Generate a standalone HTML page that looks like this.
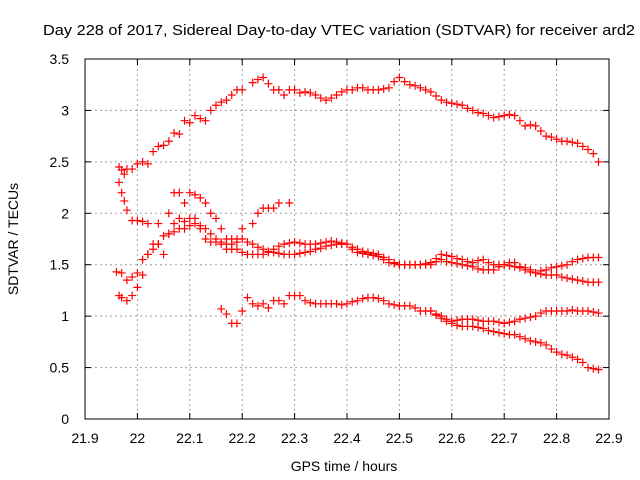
<!DOCTYPE html>
<html><head><meta charset="utf-8"><style>
body{margin:0;background:#fff}
svg{display:block;font-family:"Liberation Sans",Arial,sans-serif}
</style></head><body>
<svg id="chart" width="640" height="480" viewBox="0 0 640 480" xmlns="http://www.w3.org/2000/svg">
<text x="339" y="35" font-size="14.5" text-anchor="middle" textLength="592" lengthAdjust="spacingAndGlyphs">Day 228 of 2017, Sidereal Day-to-day VTEC variation (SDTVAR) for receiver ard2</text>
<g id="grid"></g>
<g id="ticks"></g>
<g id="marks"></g>
<rect x="85" y="59" width="524" height="360" fill="none" stroke="#000" stroke-width="1"/>
<text x="344" y="471" font-size="14" text-anchor="middle">GPS time / hours</text>
<text transform="translate(18,239) rotate(-90)" font-size="14" text-anchor="middle">SDTVAR / TECUs</text>
</svg>
<script>
const xTicks=[21.9,22,22.1,22.2,22.3,22.4,22.5,22.6,22.7,22.8,22.9];
const xTickLabels=["21.9","22","22.1","22.2","22.3","22.4","22.5","22.6","22.7","22.8","22.9"];
const yTicks=[0,0.5,1,1.5,2,2.5,3,3.5];
const yTickLabels=["0","0.5","1","1.5","2","2.5","3","3.5"];
const serA=[[21.965,2.45],[21.97,2.42],[21.975,2.38],[21.98,2.43],[21.99,2.43],[22.0,2.48],[22.01,2.5],[22.02,2.48],[22.03,2.6],[22.04,2.65],[22.05,2.66],[22.06,2.7],[22.07,2.78],[22.08,2.77],[22.09,2.9],[22.1,2.88],[22.11,2.95],[22.12,2.92],[22.13,2.9],[22.14,3.0],[22.15,3.05],[22.16,3.08],[22.17,3.1],[22.18,3.15],[22.19,3.2],[22.2,3.2],[22.22,3.27],[22.23,3.3],[22.24,3.32],[22.25,3.26],[22.26,3.2],[22.27,3.2],[22.28,3.15],[22.29,3.2],[22.3,3.2],[22.31,3.17],[22.32,3.18],[22.33,3.17],[22.34,3.15],[22.35,3.12],[22.36,3.1],[22.37,3.12],[22.38,3.15],[22.39,3.18],[22.4,3.2],[22.41,3.2],[22.42,3.22],[22.43,3.22],[22.44,3.2],[22.45,3.2],[22.46,3.2],[22.47,3.21],[22.48,3.22],[22.49,3.28],[22.5,3.32],[22.51,3.28],[22.52,3.25],[22.53,3.24],[22.54,3.22],[22.55,3.2],[22.56,3.18],[22.57,3.14],[22.58,3.1],[22.59,3.08],[22.6,3.07],[22.61,3.06],[22.62,3.05],[22.63,3.02],[22.64,3.0],[22.65,2.98],[22.66,2.97],[22.67,2.95],[22.68,2.93],[22.69,2.94],[22.7,2.95],[22.71,2.96],[22.72,2.95],[22.73,2.9],[22.74,2.85],[22.75,2.86],[22.76,2.85],[22.77,2.8],[22.78,2.75],[22.79,2.74],[22.8,2.72],[22.81,2.7],[22.82,2.7],[22.83,2.69],[22.84,2.68],[22.85,2.65],[22.86,2.62],[22.87,2.58],[22.88,2.5]];
const serB=[[21.965,2.3],[21.97,2.2],[21.975,2.12],[21.98,2.03],[21.99,1.93],[22.0,1.93],[22.01,1.92],[22.02,1.9],[22.04,1.9],[22.06,2.0],[22.07,2.2],[22.08,2.2],[22.09,2.1],[22.1,2.2],[22.11,2.18],[22.12,2.15],[22.13,2.1],[22.14,2.0],[22.15,1.95],[22.16,1.85],[22.17,1.75],[22.18,1.75],[22.19,1.75],[22.2,1.85],[22.22,1.9],[22.23,2.0],[22.24,2.05],[22.25,2.05],[22.26,2.05],[22.27,2.1],[22.29,2.1]];
const serC=[[21.96,1.43],[21.97,1.42],[21.98,1.35],[21.99,1.38],[22.0,1.42],[22.01,1.55],[22.02,1.6],[22.03,1.65],[22.04,1.7],[22.05,1.78],[22.06,1.8],[22.07,1.82],[22.08,1.85],[22.09,1.85],[22.1,1.88],[22.11,1.9],[22.12,1.88],[22.13,1.85],[22.14,1.8],[22.15,1.75],[22.16,1.72],[22.17,1.7],[22.18,1.65],[22.19,1.65],[22.2,1.62],[22.21,1.6],[22.22,1.6],[22.23,1.6],[22.24,1.6],[22.25,1.62],[22.26,1.65],[22.27,1.68],[22.28,1.7],[22.29,1.71],[22.3,1.72],[22.31,1.71],[22.32,1.7],[22.33,1.7],[22.34,1.7],[22.35,1.71],[22.36,1.72],[22.37,1.73],[22.38,1.72],[22.39,1.71],[22.4,1.7],[22.41,1.67],[22.42,1.65],[22.43,1.63],[22.44,1.62],[22.45,1.61],[22.46,1.6],[22.47,1.57],[22.48,1.55],[22.49,1.52],[22.5,1.5],[22.51,1.5],[22.52,1.5],[22.53,1.5],[22.54,1.5],[22.55,1.5],[22.56,1.5],[22.57,1.53],[22.58,1.55],[22.59,1.53],[22.6,1.52],[22.61,1.51],[22.62,1.5],[22.63,1.49],[22.64,1.48],[22.65,1.46],[22.66,1.45],[22.67,1.45],[22.68,1.45],[22.69,1.48],[22.7,1.5],[22.71,1.52],[22.72,1.52],[22.73,1.48],[22.74,1.45],[22.75,1.43],[22.76,1.42],[22.77,1.44],[22.78,1.45],[22.79,1.47],[22.8,1.48],[22.81,1.49],[22.82,1.5],[22.83,1.53],[22.84,1.55],[22.85,1.56],[22.86,1.57],[22.87,1.57],[22.88,1.57]];
const serD=[[21.965,1.2],[21.97,1.18],[21.98,1.15],[21.99,1.2],[22.0,1.28],[22.01,1.4],[22.02,1.6],[22.03,1.7],[22.04,1.7],[22.05,1.6],[22.06,1.8],[22.07,1.9],[22.08,1.95],[22.09,1.92],[22.1,1.95],[22.11,1.95],[22.12,1.85],[22.13,1.75],[22.14,1.72],[22.15,1.72],[22.16,1.7],[22.17,1.65],[22.18,1.7],[22.19,1.72],[22.2,1.75],[22.21,1.72],[22.22,1.7],[22.23,1.67],[22.24,1.65],[22.25,1.63],[22.26,1.62],[22.27,1.61],[22.28,1.6],[22.29,1.6],[22.3,1.6],[22.31,1.61],[22.32,1.62],[22.33,1.63],[22.34,1.65],[22.35,1.66],[22.36,1.68],[22.37,1.69],[22.38,1.7],[22.39,1.7],[22.4,1.7],[22.41,1.65],[22.42,1.62],[22.43,1.61],[22.44,1.6],[22.45,1.59],[22.46,1.58],[22.47,1.55],[22.48,1.52],[22.49,1.51],[22.5,1.5],[22.51,1.5],[22.52,1.5],[22.53,1.5],[22.54,1.5],[22.55,1.51],[22.56,1.52],[22.57,1.56],[22.58,1.6],[22.59,1.59],[22.6,1.58],[22.61,1.56],[22.62,1.55],[22.63,1.53],[22.64,1.52],[22.65,1.54],[22.66,1.55],[22.67,1.52],[22.68,1.5],[22.69,1.5],[22.7,1.5],[22.71,1.49],[22.72,1.48],[22.73,1.47],[22.74,1.47],[22.75,1.45],[22.76,1.42],[22.77,1.41],[22.78,1.4],[22.79,1.4],[22.8,1.4],[22.81,1.38],[22.82,1.37],[22.83,1.36],[22.84,1.35],[22.85,1.34],[22.86,1.33],[22.87,1.33],[22.88,1.33]];
const serE=[[22.16,1.07],[22.17,1.02],[22.18,0.93],[22.19,0.93],[22.2,1.05],[22.21,1.18],[22.22,1.12],[22.23,1.1],[22.24,1.12],[22.25,1.08],[22.26,1.15],[22.27,1.15],[22.28,1.12],[22.29,1.2],[22.3,1.2],[22.31,1.2],[22.32,1.15],[22.33,1.13],[22.34,1.12],[22.35,1.12],[22.36,1.12],[22.37,1.12],[22.38,1.12],[22.39,1.11],[22.4,1.12],[22.41,1.14],[22.42,1.15],[22.43,1.17],[22.44,1.18],[22.45,1.18],[22.46,1.17],[22.47,1.15],[22.48,1.12],[22.49,1.11],[22.5,1.1],[22.51,1.1],[22.52,1.1],[22.53,1.08],[22.54,1.05],[22.55,1.05],[22.56,1.05],[22.57,1.02],[22.58,1.0],[22.59,0.97],[22.6,0.95],[22.61,0.96],[22.62,0.97],[22.63,0.97],[22.64,0.97],[22.65,0.96],[22.66,0.95],[22.67,0.95],[22.68,0.95],[22.69,0.94],[22.7,0.93],[22.71,0.94],[22.72,0.95],[22.73,0.97],[22.74,0.98],[22.75,0.99],[22.76,1.0],[22.77,1.03],[22.78,1.05],[22.79,1.05],[22.8,1.05],[22.81,1.05],[22.82,1.05],[22.83,1.06],[22.84,1.05],[22.85,1.05],[22.86,1.05],[22.87,1.04],[22.88,1.03]];
const serF=[[22.56,1.05],[22.57,1.01],[22.58,0.98],[22.59,0.95],[22.6,0.93],[22.61,0.91],[22.62,0.9],[22.63,0.9],[22.64,0.9],[22.65,0.89],[22.66,0.88],[22.67,0.86],[22.68,0.85],[22.69,0.84],[22.7,0.83],[22.71,0.82],[22.72,0.82],[22.73,0.8],[22.74,0.78],[22.75,0.76],[22.76,0.75],[22.77,0.74],[22.78,0.72],[22.79,0.68],[22.8,0.65],[22.81,0.63],[22.82,0.62],[22.83,0.6],[22.84,0.58],[22.85,0.55],[22.86,0.5],[22.87,0.49],[22.88,0.48]];
const NS="http://www.w3.org/2000/svg";
function xs(v){return 85+(v-21.9)*524;}
function ys(v){return 419-v*102.86;}
const grid=document.getElementById('grid'),ticks=document.getElementById('ticks'),marks=document.getElementById('marks');
function mk(tag,attrs,parent){const e=document.createElementNS(NS,tag);for(const k in attrs)e.setAttribute(k,attrs[k]);parent.appendChild(e);return e;}
xTicks.forEach((t,i)=>{const x=xs(t);
 if(i>0&&i<xTicks.length-1){const g=mk('line',{x1:x,x2:x,y1:59,y2:419,stroke:'#a0a0a0','stroke-dasharray':'2,3'},grid);
 
 }
 mk('line',{x1:x,x2:x,y1:419,y2:413,stroke:'#000'},ticks);mk('line',{x1:x,x2:x,y1:59,y2:65,stroke:'#000'},ticks);
 const tx=mk('text',{x:x,y:443,'font-size':14,'text-anchor':'middle'},ticks);tx.textContent=xTickLabels[i];
 
 });
yTicks.forEach((t,i)=>{const y=ys(t);
 if(i>0&&i<yTicks.length-1){const g=mk('line',{x1:85,x2:609,y1:y,y2:y,stroke:'#a0a0a0','stroke-dasharray':'2,3'},grid);
 
 }
 mk('line',{x1:85,x2:91,y1:y,y2:y,stroke:'#000'},ticks);mk('line',{x1:603,x2:609,y1:y,y2:y,stroke:'#000'},ticks);
 const tx=mk('text',{x:69,y:y+5,'font-size':14,'text-anchor':'end'},ticks);tx.textContent=yTickLabels[i];
 
 });
[serA,serB,serC,serD,serE,serF].forEach((s,si)=>{s.forEach(p=>{const x=xs(p[0]),y=ys(p[1]);
 const g=mk('path',{d:`M${x-4},${y}H${x+4}M${x},${y-4}V${y+4}`,stroke:'#ff0000','stroke-width':1.2,fill:'none'},marks);
 
 });});
</script>
</body></html>
